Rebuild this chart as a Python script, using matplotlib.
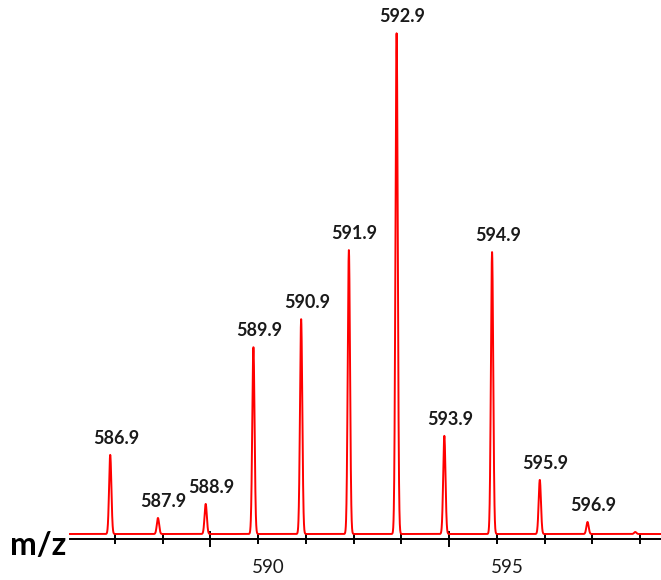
import numpy as np
import matplotlib
matplotlib.use("Agg")
import matplotlib.pyplot as plt
import matplotlib.transforms as mtransforms
from matplotlib.ticker import FixedLocator

# ---- data ----
peak_mz = [586.9, 587.9, 588.9, 589.9, 590.9, 591.9, 592.9, 593.9, 594.9, 595.9, 596.9, 597.9]
peak_int = [15.8, 3.2, 6.0, 37.3, 42.9, 56.7, 100.0, 19.6, 56.3, 10.8, 2.4, 0.4]
peak_labels = ["586.9", "587.9", "588.9", "589.9", "590.9", "591.9", "592.9",
               "593.9", "594.9", "595.9", "596.9", ""]
tick_values = [590, 595]
tick_labels = ["590", "595"]
minor_ticks = list(range(587, 599))
long_ticks = [589, 594]

plt.rcParams['font.family'] = ['Lato', 'DejaVu Sans']

W, H, DPI = 661, 580, 100
fig = plt.figure(figsize=(W / DPI, H / DPI), dpi=DPI)
ax_left = 70 / W
ax_bottom = (H - 538.5) / H
ax_top = (H - 20) / H
ax = fig.add_axes([ax_left, ax_bottom, 1 - ax_left, ax_top - ax_bottom])

px_per_unit = 47.73
xmin = 587 - (115 - 70) / px_per_unit
xmax = 587 + (661 - 115) / px_per_unit
ax.set_xlim(xmin, xmax)
px_per_y = 501 / 100.0
ymin = -4.5 / px_per_y
ymax = ymin + 518.5 / px_per_y
ax.set_ylim(ymin, ymax)

# spectrum profile built from the peak list
x = np.arange(xmin, xmax, 0.002)
sigma = 0.024
y = np.zeros_like(x)
for m, h in zip(peak_mz, peak_int):
    y += h * np.exp(-0.5 * ((x - m) / sigma) ** 2)
ax.plot(x, y, color='#ff0000', lw=1.4, clip_on=False, zorder=3)

# peak labels
for m, h, lab in zip(peak_mz, peak_int, peak_labels):
    if lab:
        ax.annotate(lab, xy=(m, h), xytext=(4, 8), textcoords='offset points',
                    ha='center', va='baseline', fontsize=13, color='#1a1a1a',
                    fontweight='bold')

# axes styling
for s in ['top', 'right', 'left']:
    ax.spines[s].set_visible(False)
ax.spines['bottom'].set_linewidth(1.4)
ax.spines['bottom'].set_color('black')
ax.spines['bottom'].set_zorder(4)
ax.set_yticks([])
ax.xaxis.set_major_locator(FixedLocator(long_ticks))
ax.xaxis.set_minor_locator(FixedLocator([t for t in minor_ticks if t not in long_ticks]))
ax.set_xticklabels([])
ax.tick_params(axis='x', which='major', direction='inout', length=11, width=1.4, color='black')
ax.tick_params(axis='x', which='minor', direction='inout', length=7, width=1.4, color='black')
ax.set_facecolor('none')

# tick labels (slightly right of their ticks, as in the original)
trans = mtransforms.blended_transform_factory(ax.transData, ax.transAxes) + \
    mtransforms.ScaledTranslation(10 / DPI, -29 / DPI, fig.dpi_scale_trans)
for v, lab in zip(tick_values, tick_labels):
    ax.text(v, 0, lab, transform=trans, ha='center', va='center', fontsize=13.5,
            color='#1a1a1a')

fig.text(10 / W, (H - 555) / H, 'm/z', fontsize=23, fontweight='bold', ha='left', va='baseline')

fig.savefig('out.png', dpi=DPI)
